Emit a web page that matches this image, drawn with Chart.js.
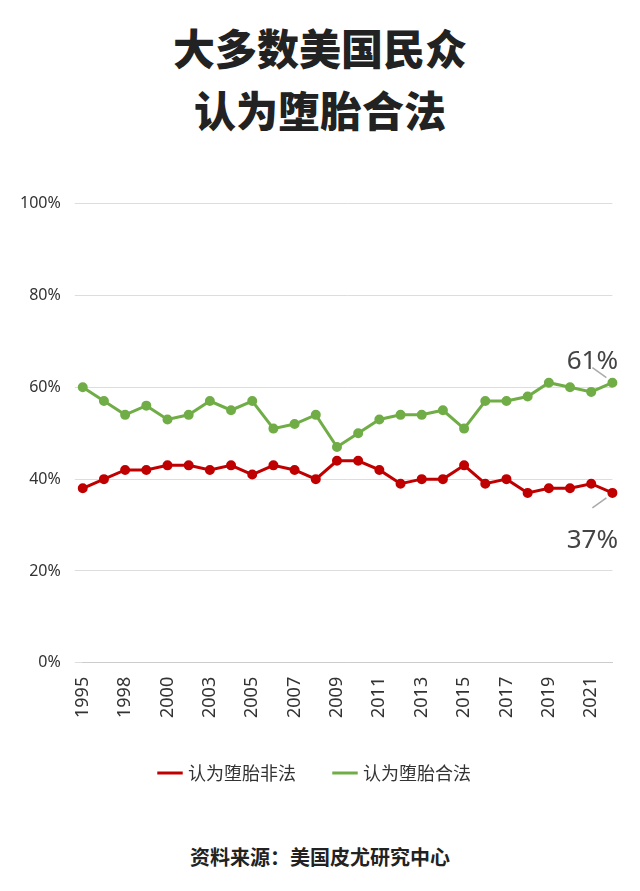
<!DOCTYPE html>
<html><head><meta charset="utf-8">
<script src="https://cdn.jsdelivr.net/npm/chart.js@4"></script>
<style>
body{margin:0;background:#fff;font-family:"Noto Sans CJK SC",sans-serif;}
#t{position:absolute;top:16px;left:0;width:640px;text-align:center;font-size:42px;font-weight:900;line-height:62px;color:#222;}
#w{position:absolute;top:180px;left:0;width:640px;height:612px;}
#s{position:absolute;top:842px;left:0;width:640px;text-align:center;font-size:20px;font-weight:700;color:#222;}
</style></head><body>
<div id="t">大多数美国民众<br>认为堕胎合法</div>
<div id="w"><canvas id="c"></canvas></div>
<div id="s">资料来源：美国皮尤研究中心</div>
<script>
const years=["1995","1996","1998","1999","2000","2001","2003","2004","2005","2006","2007","2008","2009","2010","2011","2012","2013","2014","2015","2016","2017","2018","2019","2020","2021","2022"];
const illegal=[38,40,42,42,43,43,42,43,41,43,42,40,44,44,42,39,40,40,43,39,40,37,38,38,39,37];
const legal=[60,57,54,56,53,54,57,55,57,51,52,54,47,50,53,54,54,55,51,57,57,58,61,60,59,61];
const yTicks=[0,20,40,60,80,100];
const endLabels={
 id:'endLabels',
 afterDatasetsDraw(ch){
  const ctx=ch.ctx,x=ch.scales.x,y=ch.scales.y,n=years.length-1;
  const px=x.getPixelForValue(n);
  ctx.save();ctx.strokeStyle='#aaa';ctx.lineWidth=1.5;ctx.fillStyle='#444';
  ctx.font='26px "Noto Sans","DejaVu Sans",sans-serif';ctx.textAlign='center';
  let gy=y.getPixelForValue(legal[n]);
  ctx.beginPath();ctx.moveTo(px-6,gy-5);ctx.lineTo(px-20,gy-15);ctx.stroke();
  ctx.fillText('61%',px-20,gy-21);
  let ry=y.getPixelForValue(illegal[n]);
  ctx.beginPath();ctx.moveTo(px-6,ry+5);ctx.lineTo(px-20,ry+15);ctx.stroke();
  ctx.fillText('37%',px-20,ry+48);
  ctx.restore();
 }};
new Chart(document.getElementById('c'),{
 type:'line',
 data:{labels:years,datasets:[
  {label:'认为堕胎非法',data:illegal,borderColor:'#c00000',backgroundColor:'#c00000',borderWidth:3,pointRadius:3.5,pointHoverRadius:3.5},
  {label:'认为堕胎合法',data:legal,borderColor:'#70ad47',backgroundColor:'#70ad47',borderWidth:3,pointRadius:3.5,pointHoverRadius:3.5}]},
 options:{responsive:true,maintainAspectRatio:false,animation:false,
  layout:{padding:{left:6,right:14,top:12,bottom:0}},
  plugins:{legend:{position:'bottom',labels:{usePointStyle:true,pointStyle:'line',boxWidth:40,padding:40,color:'#333',font:{size:18,family:'"Noto Sans CJK SC"'}}},tooltip:{enabled:false}},
  scales:{
   x:{grid:{display:false},border:{color:'#ccc'},ticks:{maxRotation:90,minRotation:90,autoSkip:false,padding:6,color:'#333',font:{size:18,family:'"Noto Sans"'},callback:(v,i)=>i%2===0?years[i]:''}},
   y:{min:0,max:100,afterBuildTicks:a=>{a.ticks=yTicks.map(v=>({value:v}));},grid:{color:'#ddd'},border:{display:false},ticks:{color:'#333',padding:14,font:{size:16,family:'"Noto Sans"'},callback:v=>v+'%'}}
  }}
 ,plugins:[endLabels]});
</script></body></html>
